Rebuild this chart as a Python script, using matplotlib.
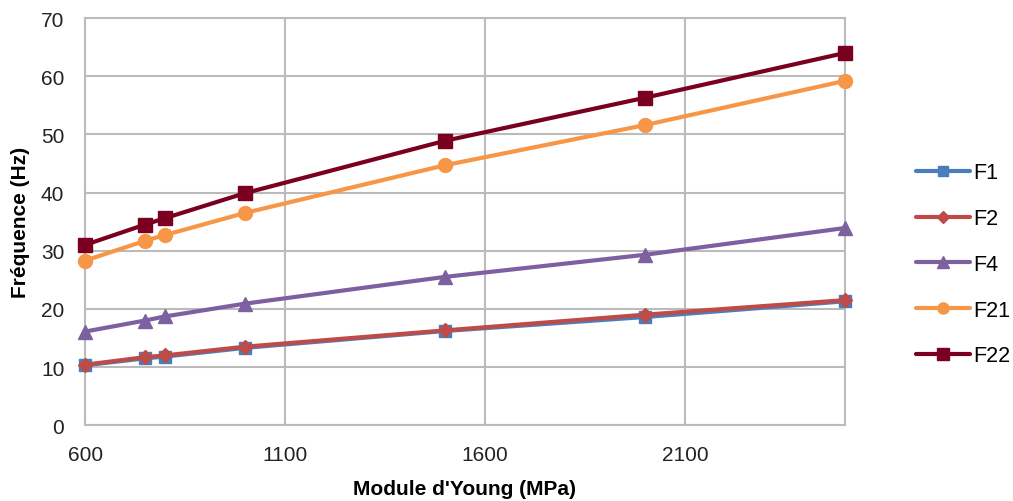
import matplotlib
matplotlib.use('Agg')
import matplotlib.pyplot as plt

plt.rcParams['font.family'] = ['Liberation Sans', 'DejaVu Sans']

# Young's modulus (MPa)
module = [600, 750, 800, 1000, 1500, 2000, 2500]

# frequencies (Hz)
f1 = [10.3, 11.5, 11.8, 13.3, 16.2, 18.6, 21.3]
f2 = [10.4, 11.7, 12.0, 13.5, 16.3, 19.0, 21.5]
f4 = [16.1, 18.0, 18.7, 20.9, 25.5, 29.3, 33.9]
f21 = [28.3, 31.7, 32.7, 36.5, 44.7, 51.6, 59.2]
f22 = [31.0, 34.5, 35.6, 39.9, 48.9, 56.3, 64.0]

series = [
    ('F1', f1, '#4A7EBB', 's', 9),
    ('F2', f2, '#BE4B48', 'D', 7.5),
    ('F4', f4, '#7D60A0', '^', 10),
    ('F21', f21, '#F79646', 'o', 10),
    ('F22', f22, '#7B0020', 's', 10),
]

fig = plt.figure(figsize=(10.13, 5.02), dpi=100)
ax = fig.add_axes([0.084, 0.151, 0.750, 0.811])

for name, vals, col, mk, ms in series:
    ax.plot(module, vals, color=col, marker=mk, markersize=ms, linewidth=3,
            label=name, solid_capstyle='round', clip_on=False, zorder=3)

ax.set_xlim(600, 2500)
ax.set_ylim(0, 70)
ax.set_xticks([600, 1100, 1600, 2100])
ax.set_yticks(range(0, 71, 10))
ax.grid(True, color='#BBBBBB', linewidth=1.5)
ax.set_axisbelow(True)
for sp in ax.spines.values():
    sp.set_color('#BBBBBB')
    sp.set_linewidth(1.5)
ax.tick_params(length=0, labelsize=15, colors='#222222')
ax.tick_params(axis='x', pad=14)
ax.tick_params(axis='y', pad=15)

ax.set_xlabel("Module d'Young (MPa)", fontsize=15, fontweight='bold', labelpad=11)
ax.set_ylabel("Fréquence (Hz)", fontsize=15, fontweight='bold', labelpad=8)

ax.legend(loc='center left', bbox_to_anchor=(1.068, 0.395), frameon=False,
          fontsize=15.5, labelspacing=1.15, handlelength=2.5, handletextpad=0.15,
          markerscale=0.8)

fig.savefig('out.png', dpi=100)
